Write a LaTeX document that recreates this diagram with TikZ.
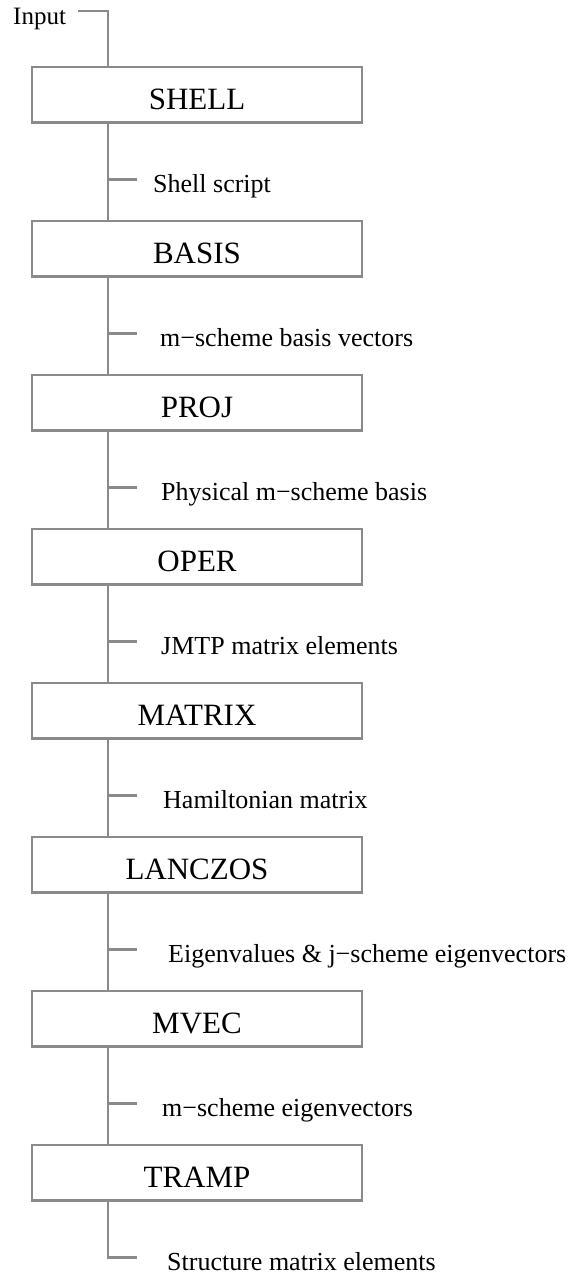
\documentclass[tikz,border=0pt]{standalone}
\usepackage{fontspec}
\setmainfont{Liberation Serif}
\begin{document}
\begin{tikzpicture}[x=1pt,y=-1pt,
  conn/.style={draw=linegray,line width=2.2pt},
  stage/.style={draw=linegray,line width=2.2pt,minimum width=330pt,minimum height=55.5pt,
    inner sep=0pt,text height=30pt,text depth=0pt,font=\fontsize{31}{36}\selectfont},
  lab/.style={anchor=base west,inner sep=0pt,font=\fontsize{26}{30}\selectfont}]
\definecolor{linegray}{RGB}{138,138,138}
\useasboundingbox (0,0) rectangle (573,1276);
\foreach \n/\t [count=\i from 0] in {shell/SHELL,basis/BASIS,proj/PROJ,oper/OPER,matrix/MATRIX,lanczos/LANCZOS,mvec/MVEC,tramp/TRAMP}{
  \node[stage] (\n) at (197,{67+154*\i+27.75}) {\t};
}
\node[anchor=base west,inner sep=0pt,font=\fontsize{25}{30}\selectfont] (input) at (13,25) {Input};
\coordinate (inp) at (78,11);
\coordinate (tx) at (108,0);
\draw[conn] (inp) -| (shell.north -| tx);
\foreach \a/\b/\k/\lx/\txt in {shell/basis/0/153/Shell script,
  basis/proj/1/160/m−scheme basis vectors,
  proj/oper/2/161/Physical m−scheme basis,
  oper/matrix/3/161/JMTP matrix elements,
  matrix/lanczos/4/163/Hamiltonian matrix,
  lanczos/mvec/5/168/Eigenvalues \& j−scheme eigenvectors,
  mvec/tramp/6/162/m−scheme eigenvectors}{
  \coordinate (t\k) at (108,{67+154*\k+112.5});
  \draw[conn] (\a.south -| tx) -- (\b.north -| tx);
  \draw[conn] (t\k) -- ++(29,0);
  \node[lab] (l\k) at (\lx,{67+154*\k+112.5+13}) {\txt};
}
\coordinate (t7) at (108,{67+154*7+112.5});
\draw[conn] (tramp.south -| tx) -- (t7) -- ++(29,0);
\node[lab] (l7) at (167,{67+154*7+112.5+13}) {Structure matrix elements};
\end{tikzpicture}
\end{document}
